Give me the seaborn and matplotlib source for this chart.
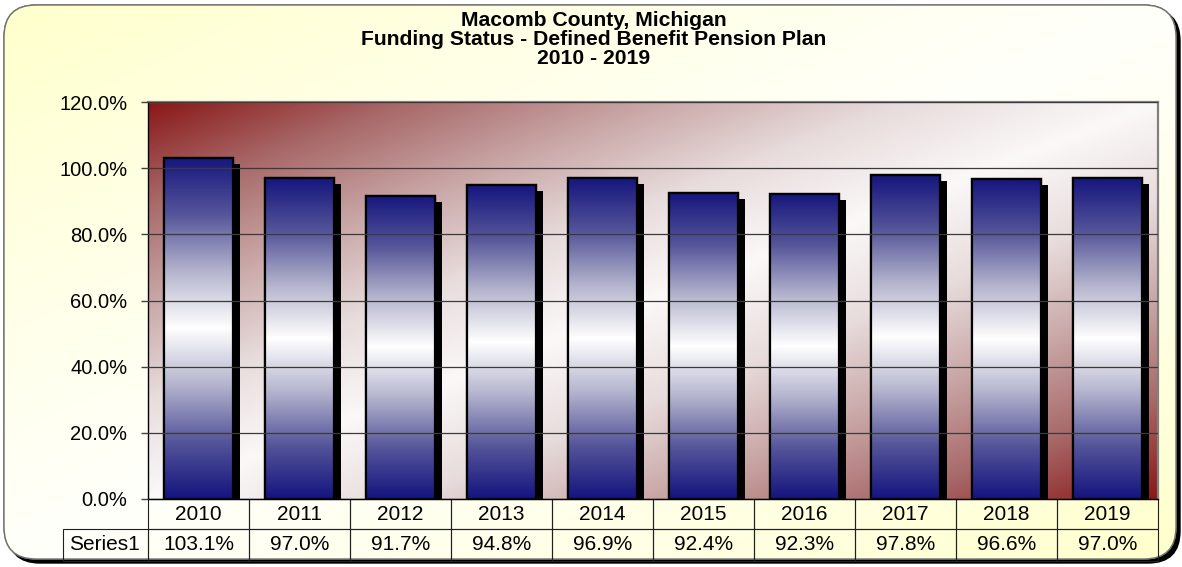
import numpy as np
import pandas as pd
import matplotlib
matplotlib.use("Agg")
import matplotlib.pyplot as plt
import seaborn as sns
from matplotlib.patches import FancyBboxPatch, Rectangle
from matplotlib.colors import LinearSegmentedColormap
import matplotlib.patheffects as pe

# ---- data ----
years = ["2010", "2011", "2012", "2013", "2014", "2015", "2016", "2017", "2018", "2019"]
funded_pct = [103.1, 97.0, 91.7, 94.8, 96.9, 92.4, 92.3, 97.8, 96.6, 97.0]
series_name = "Series1"
title_lines = ["Macomb County, Michigan",
               "Funding Status - Defined Benefit Pension Plan",
               "2010 - 2019"]
yticks = [0, 20, 40, 60, 80, 100, 120]

sns.set_theme(style="white")
plt.rcParams["font.family"] = ["Liberation Sans", "DejaVu Sans"]

W, H = 1182, 567
fig = plt.figure(figsize=(W / 100, H / 100), dpi=100)
fig.patch.set_facecolor("white")

# ---- background frame ----
bg = fig.add_axes([0, 0, 1, 1], zorder=-10)
bg.set_xlim(0, W)
bg.set_ylim(H, 0)
bg.axis("off")
fx0, fy0, fx1, fy1 = 4, 5, 1176, 559
shadow = FancyBboxPatch((fx0 + 4, fy0 + 4), fx1 - fx0, fy1 - fy0,
                        boxstyle="round,pad=0,rounding_size=32",
                        facecolor="black", edgecolor="black", lw=1)
bg.add_patch(shadow)
frame = FancyBboxPatch((fx0, fy0), fx1 - fx0, fy1 - fy0,
                       boxstyle="round,pad=0,rounding_size=32",
                       facecolor="white", edgecolor="#707070", lw=1)
bg.add_patch(frame)
yy, xx = np.mgrid[0:1:200j, 0:1:400j]
dd = np.abs(xx - (1 - yy))  # 0 on anti-diagonal (top-right/bottom-left), 1 at corners
ycmap = LinearSegmentedColormap.from_list("y", ["#FFFFFB", "#FFFFE6", "#FFFFCC"])
im = bg.imshow(dd, cmap=ycmap, extent=[fx0, fx1, fy1, fy0], aspect="auto",
               origin="upper", zorder=1)
im.set_clip_path(frame)
frame_edge = FancyBboxPatch((fx0, fy0), fx1 - fx0, fy1 - fy0,
                            boxstyle="round,pad=0,rounding_size=32",
                            facecolor="none", edgecolor="#707070", lw=1, zorder=2)
bg.add_patch(frame_edge)

# ---- main axes ----
ax = fig.add_axes([148 / W, 1 - 499 / H, 1010 / W, 397 / H])
df = pd.DataFrame({"year": years, "pct": funded_pct})
navy = "#1E1E80"
sns.barplot(data=df, x="year", y="pct", ax=ax, color=navy, saturation=1,
            width=0.69, edgecolor="black", linewidth=1.6, zorder=2)

# plot-area gradient background
rcmap = LinearSegmentedColormap.from_list(
    "r", ["#FBF8F8", "#E8DCDC", "#C9A6A6", "#A86868", "#8A1818"])
pim = ax.imshow(dd, cmap=rcmap, extent=[0, 1, 0, 1], transform=ax.transAxes,
                aspect="auto", origin="upper", zorder=0)

# bar gradients + shadows
bcmap = LinearSegmentedColormap.from_list(
    "b", ["#16167E", "#55559A", "#B4B4CE", "#FFFFFF", "#B4B4CE", "#55559A", "#14147E"])
bar_grad = np.linspace(0, 1, 256).reshape(-1, 1)
for p in list(ax.patches):
    p.set_path_effects([pe.SimplePatchShadow(offset=(5, -4.3), shadow_rgbFace="black", alpha=1),
                        pe.Normal()])
    bb = p.get_bbox()
    g = ax.imshow(bar_grad, cmap=bcmap, extent=[bb.x0, bb.x1, bb.y0, bb.y1],
                  aspect="auto", origin="upper", zorder=2.1)
    g.set_clip_path(p)
    ax.add_patch(Rectangle((bb.x0, bb.y0), bb.width, bb.height, facecolor="none",
                           edgecolor="black", lw=1.6, zorder=2.2))

ax.set_xlim(-0.5, len(years) - 0.5)
ax.set_ylim(0, 120)
ax.set_yticks(yticks)
ax.set_yticklabels([f"{v:.1f}%" for v in yticks], fontsize=14.5, color="black")
ax.tick_params(axis="y", which="both", left=True, length=5, width=1, color="#404040", pad=10)
ax.set_xticks(range(len(years)))
ax.set_xticklabels([])
ax.tick_params(axis="x", bottom=False, length=0)
ax.set_xlabel("")
ax.set_ylabel("")
ax.yaxis.grid(True, color="#3A3A3A", lw=0.9, zorder=1)
ax.xaxis.grid(False)
ax.set_axisbelow(False)
for gl in ax.get_ygridlines():
    gl.set_zorder(1)
ax.spines["left"].set_color("black")
ax.spines["left"].set_linewidth(1)
ax.spines["bottom"].set_color("black")
ax.spines["bottom"].set_linewidth(1)
ax.spines["top"].set_color("#808080")
ax.spines["top"].set_linewidth(1.6)
ax.spines["right"].set_color("#808080")
ax.spines["right"].set_linewidth(1.6)

# ---- data table ----
rowlab_w = 85 / 1010
tab_h = 62 / 397
tbl = ax.table(cellText=[[f"{v:.1f}%" for v in funded_pct]],
               rowLabels=[series_name], colLabels=years,
               cellLoc="center", rowLoc="left",
               bbox=[0, -tab_h, 1, tab_h])
tbl.auto_set_font_size(False)
tbl.set_fontsize(15)
tbl._autoColumns = []
for (r, c), cell in tbl.get_celld().items():
    cell.set_facecolor("none")
    cell.set_edgecolor("#202020")
    cell.set_linewidth(0.8)
    cell.set_width(rowlab_w if c == -1 else 0.1)
    cell.set_height(30 if r == 0 else 32)
    cell.get_text().set_color("black")
    cell.PAD = 0.07

# ---- title ----
for i, line in enumerate(title_lines):
    fig.text(594 / W, 1 - (21 + 18.5 * i) / H, line, ha="center", va="center",
             fontsize=15.2, fontweight="bold", color="black")

fig.savefig("out.png", dpi=100)
